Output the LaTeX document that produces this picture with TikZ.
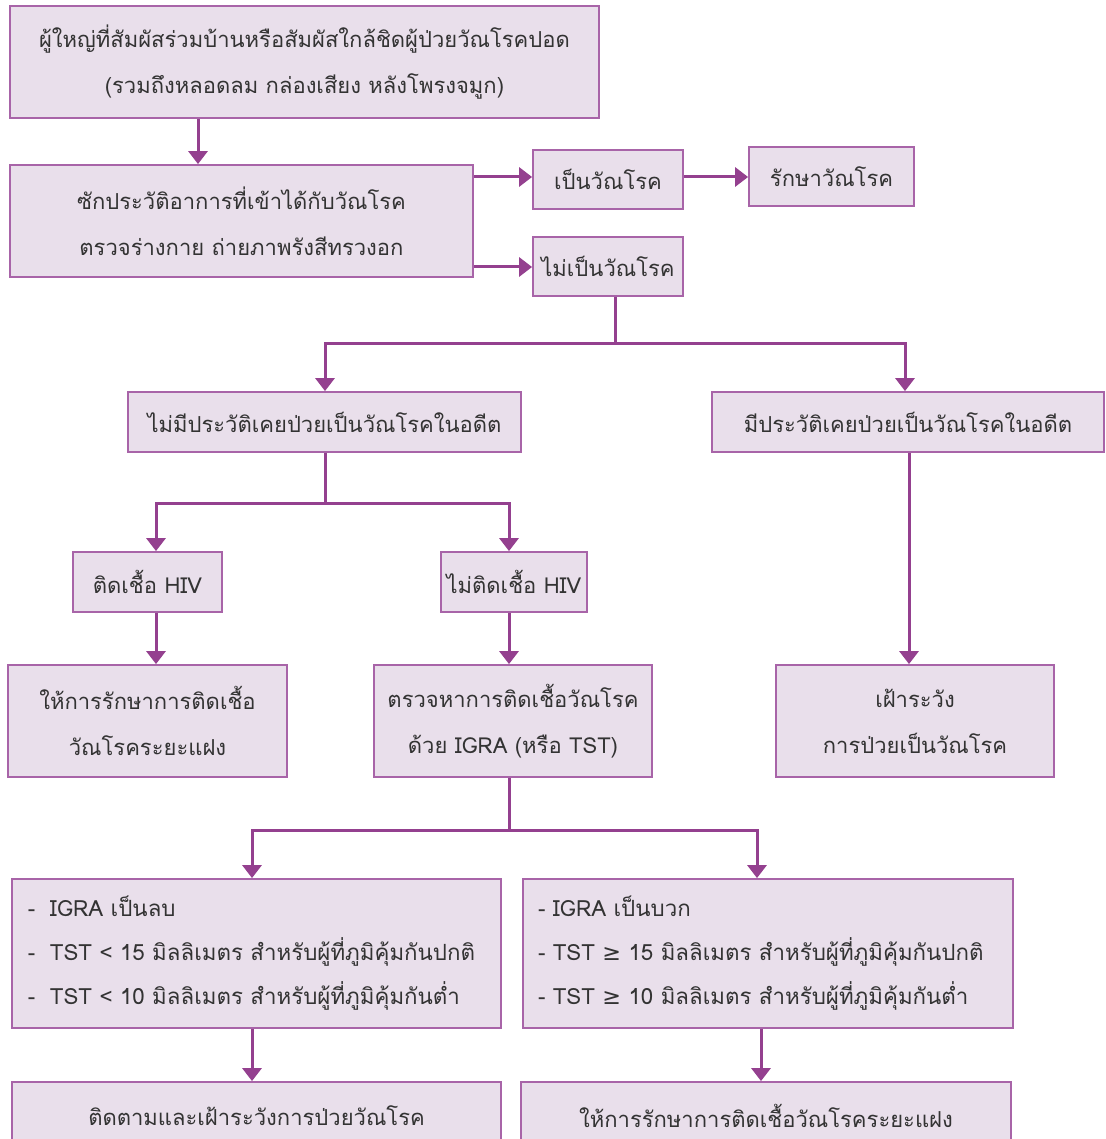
\documentclass[tikz,border=0pt]{standalone}
\usepackage{fontspec}
\setmainfont{Liberation Sans}
\newfontfamily\thaifont[Script=Thai]{Loma}
\newfontfamily\symfont{DejaVu Sans}
\usetikzlibrary{arrows.meta,calc}
\definecolor{boxfill}{HTML}{E9DFEB}
\definecolor{boxline}{HTML}{A864A8}
\definecolor{arrowc}{HTML}{94408F}
\definecolor{txt}{HTML}{333333}
\tikzset{
  box/.style={draw=boxline, fill=boxfill, line width=1.8pt, inner sep=0pt,
    text=txt, align=center, font=\thaifont\fontsize{22}{46}\selectfont},
  listbox/.style={box, align=left, font=\thaifont\fontsize{22.3}{44}\selectfont},
  arr/.style={draw=arrowc, line width=3pt, -{Triangle[width=19pt,length=13pt]}},
  ln/.style={draw=arrowc, line width=3pt},
}
\begin{document}
\begin{tikzpicture}[x=1pt,y=-1pt]
\useasboundingbox (0,0) rectangle (1105,1139);
\fill[white] (0,0) rectangle (1105,1139);
% boxes
\node[box, minimum width=589pt, minimum height=112pt] (b1) at (304.5,62)
  {ผู้ใหญ่ที่สัมผัสร่วมบ้านหรือสัมผัสใกล้ชิดผู้ป่วยวัณโรคปอด\\(รวมถึงหลอดลม กล่องเสียง หลังโพรงจมูก)};
\node[box, minimum width=463pt, minimum height=112pt] (b2) at (241.5,221)
  {ซักประวัติอาการที่เข้าได้กับวัณโรค\\ตรวจร่างกาย ถ่ายภาพรังสีทรวงอก};
\node[box, minimum width=150pt, minimum height=59pt] (b3) at (608,179.5) {เป็นวัณโรค};
\node[box, minimum width=165pt, minimum height=59pt] (b4) at (831.5,176.5) {รักษาวัณโรค};
\node[box, minimum width=150pt, minimum height=59pt] (b5) at (608,266.5) {ไม่เป็นวัณโรค};
\node[box, minimum width=393pt, minimum height=60pt] (b6) at (324.5,422) {ไม่มีประวัติเคยป่วยเป็นวัณโรคในอดีต};
\node[box, minimum width=392pt, minimum height=60pt] (b7) at (908,422) {มีประวัติเคยป่วยเป็นวัณโรคในอดีต};
\node[box, minimum width=149pt, minimum height=60pt] (b8) at (147.5,582) {ติดเชื้อ HIV};
\node[box, minimum width=146pt, minimum height=60pt] (b9) at (514,582) {ไม่ติดเชื้อ HIV};
\node[box, minimum width=279pt, minimum height=112pt] (b10) at (147.5,721) {ให้การรักษาการติดเชื้อ\\วัณโรคระยะแฝง};
\node[box, minimum width=278pt, minimum height=112pt] (b11) at (513,721) {ตรวจหาการติดเชื้อวัณโรค\\ด้วย IGRA (หรือ TST)};
\node[box, minimum width=278pt, minimum height=112pt] (b12) at (915,721) {เฝ้าระวัง\\การป่วยเป็นวัณโรค};
\node[listbox, text width=489pt, minimum height=149pt] (b13) at (256.5,953.5)
  {\hspace*{16pt}\makebox[22pt][l]{-}IGRA เป็นลบ\\
   \hspace*{16pt}\makebox[22pt][l]{-}TST < 15 มิลลิเมตร สำหรับผู้ที่ภูมิคุ้มกันปกติ\\
   \hspace*{16pt}\makebox[22pt][l]{-}TST < 10 มิลลิเมตร สำหรับผู้ที่ภูมิคุ้มกันต่ำ};
\node[listbox, text width=490pt, minimum height=149pt] (b14) at (768,953.5)
  {\hspace*{15pt}- IGRA เป็นบวก\\
   \hspace*{15pt}- TST {\symfont ≥} 15 มิลลิเมตร สำหรับผู้ที่ภูมิคุ้มกันปกติ\\
   \hspace*{15pt}- TST {\symfont ≥} 10 มิลลิเมตร สำหรับผู้ที่ภูมิคุ้มกันต่ำ};
\node[box, minimum width=489pt, minimum height=68pt] (b15) at (256.5,1116) {ติดตามและเฝ้าระวังการป่วยวัณโรค};
\node[box, minimum width=490pt, minimum height=68pt] (b16) at (766,1116) {ให้การรักษาการติดเชื้อวัณโรคระยะแฝง};
% guide coordinates
\coordinate (xa) at (198,0);
\coordinate (ya) at (0,177);
\coordinate (yb) at (0,267);
\coordinate (xb) at (615,0);
\coordinate (j1) at (615,343);
\coordinate (xc) at (325,0);
\coordinate (xd) at (905,0);
\coordinate (j2) at (325,503);
\coordinate (xe) at (156,0);
\coordinate (xf) at (509,0);
\coordinate (xg) at (909,0);
\coordinate (j3) at (509,830);
\coordinate (xh) at (252,0);
\coordinate (xi) at (757,0);
\coordinate (xj) at (761,0);
% connectors
\draw[arr] (b1.south -| xa) -- (b2.north -| xa);
\draw[arr] (b2.east |- ya) -- (b3.west |- ya);
\draw[arr] (b3.east |- ya) -- (b4.west |- ya);
\draw[arr] (b2.east |- yb) -- (b5.west |- yb);
\draw[ln] (b5.south -| xb) -- (j1);
\draw[arr] (j1) -| (b6.north -| xc);
\draw[arr] (j1) -| (b7.north -| xd);
\draw[ln] (b6.south -| xc) -- (j2);
\draw[arr] (j2) -| (b8.north -| xe);
\draw[arr] (j2) -| (b9.north -| xf);
\draw[arr] (b8.south -| xe) -- (b10.north -| xe);
\draw[arr] (b9.south -| xf) -- (b11.north -| xf);
\draw[arr] (b7.south -| xg) -- (b12.north -| xg);
\draw[ln] (b11.south -| xf) -- (j3);
\draw[arr] (j3) -| (b13.north -| xh);
\draw[arr] (j3) -| (b14.north -| xi);
\draw[arr] (b13.south -| xh) -- (b15.north -| xh);
\draw[arr] (b14.south -| xj) -- (b16.north -| xj);
\end{tikzpicture}
\end{document}
